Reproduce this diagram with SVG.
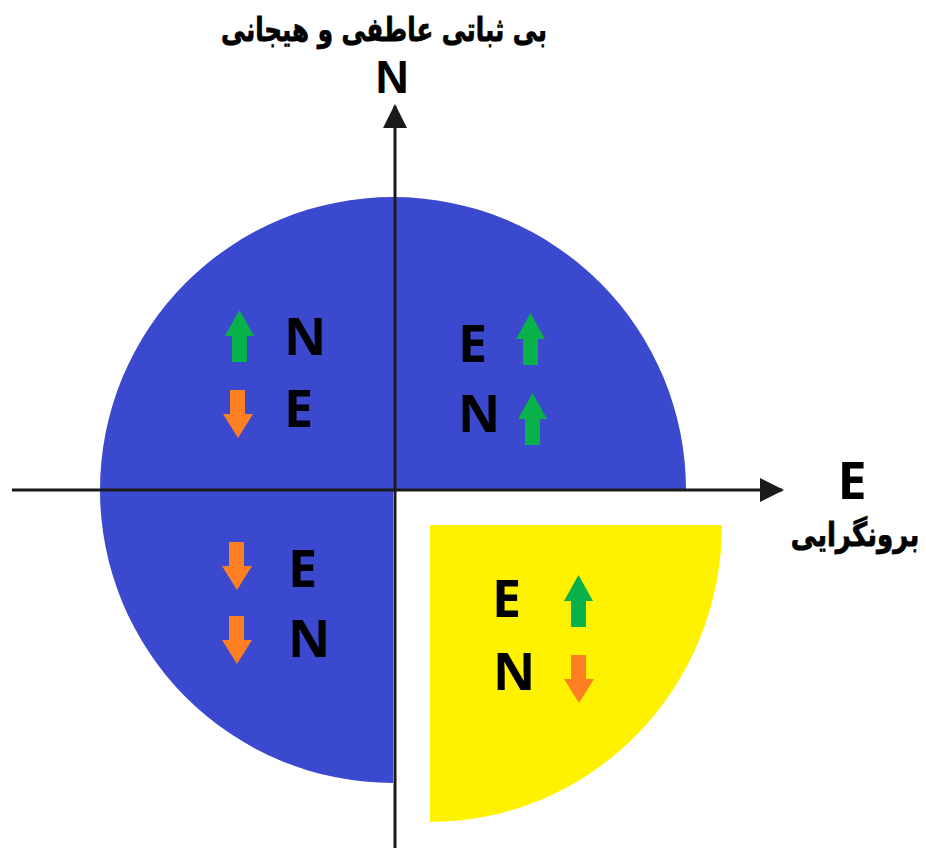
<svg xmlns="http://www.w3.org/2000/svg" width="926" height="848" viewBox="0 0 926 848">
<style>
.lt{font-family:"Open Sans","Liberation Sans",sans-serif;font-weight:700;font-size:52px;fill:#000}
.fa{font-family:"DejaVu Sans",sans-serif;font-weight:700;font-size:33px;fill:#000;stroke:#000;stroke-width:0.8;text-anchor:middle}
.ax{stroke:#1a1a1a;stroke-width:3;fill:none}
.up{fill:#08b14a}
.dn{fill:#fd7f22}
</style>
<defs>
<path id="upA" d="M14.5,0 L29,26 L22,26 L22,52 L7,52 L7,26 L0,26 Z"/>
<path id="dnA" d="M7,0 L22,0 L22,24 L30,24 L15,48 L0,24 L7,24 Z"/>
<marker id="ah" viewBox="0 0 24 24" refX="22" refY="12" markerWidth="24" markerHeight="24" markerUnits="userSpaceOnUse" orient="auto">
<path d="M0,0 L24,12 L0,24 Z" fill="#1a1a1a"/>
</marker>
</defs>
<rect width="926" height="848" fill="#fff"/>
<g id="blue-region">
<path d="M393,490 L393,783 A293,293 0 1 1 686,490 Z" fill="#3b49cf"/>
</g>
<g id="yellow-region">
<path d="M430,525 L722,525 A292,297 0 0 1 430,822 Z" fill="#fff200"/>
</g>
<g id="connectors">
<line class="ax" x1="395" y1="848" x2="395" y2="106" marker-end="url(#ah)"/>
<line class="ax" x1="12" y1="490" x2="782" y2="490" marker-end="url(#ah)"/>
</g>
<g id="axis-N">
<text class="fa" transform="translate(384,41) scale(0.745,1)">بی ثباتی عاطفی و هیجانی</text>
<text x="392" y="93" font-family="Liberation Sans,Arial,sans-serif" font-weight="700" font-size="46" text-anchor="middle">N</text>
</g>
<g id="axis-E">
<text class="lt" x="852" y="499" font-size="50" text-anchor="middle">E</text>
<text class="fa" transform="translate(855,546) scale(0.79,1)">برونگرایی</text>
</g>
<g id="q-top-left">
<use href="#upA" class="up" x="225" y="310"/>
<use href="#dnA" class="dn" x="223" y="390"/>
<text class="lt" x="284" y="355">N</text>
<text class="lt" x="284" y="427">E</text>
</g>
<g id="q-top-right">
<text class="lt" x="458" y="362">E</text>
<text class="lt" x="458" y="432">N</text>
<use href="#upA" class="up" x="516" y="313"/>
<use href="#upA" class="up" x="518" y="393"/>
</g>
<g id="q-bottom-left">
<use href="#dnA" class="dn" x="222" y="542"/>
<use href="#dnA" class="dn" x="222" y="616"/>
<text class="lt" x="288" y="587">E</text>
<text class="lt" x="288" y="657">N</text>
</g>
<g id="q-bottom-right">
<text class="lt" x="492" y="617">E</text>
<text class="lt" x="493" y="690">N</text>
<use href="#upA" class="up" x="564" y="575"/>
<use href="#dnA" class="dn" x="564" y="655"/>
</g>
</svg>
